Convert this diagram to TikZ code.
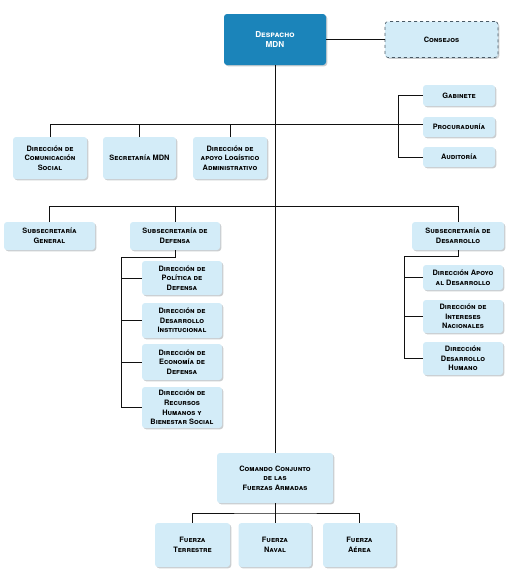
\documentclass[tikz,border=0pt]{standalone}
\usepackage{fontspec}
\setmainfont{TeX Gyre Heros}
\usetikzlibrary{shadows}
\definecolor{head}{HTML}{1B84BA}
\definecolor{unit}{HTML}{D3ECF8}
\definecolor{shade}{HTML}{9EA4A8}
\definecolor{edge}{HTML}{111111}
\definecolor{rim}{HTML}{4A5A66}
\tikzset{
  b/.style={rounded corners=3pt, fill=unit, align=center, inner sep=1pt,
    font=\bfseries\scshape\fontsize{7.4}{9.6}\selectfont,
    drop shadow={shadow xshift=1.3pt, shadow yshift=-1.3pt, fill=shade, opacity=0.55}},
  hd/.style={b, fill=head, text=white, font=\bfseries\scshape\fontsize{8.2}{10.5}\selectfont},
  cs/.style={b, draw=rim, dashed, line width=0.6pt},
  ln/.style={draw=edge, line width=0.8pt},
  sz/.style 2 args={minimum width=#1pt, minimum height=#2pt},
}

\begin{document}
\begin{tikzpicture}[x=1pt, y=-1pt]
  \useasboundingbox (0,0) rectangle (514,573);

  % top
  \node[hd, sz={102}{51}] (desp) at (275,39.5) {Despacho\\MDN};
  \node[cs, sz={113}{36}] (cons) at (441.5,39.5) {Consejos};

  % advisory units
  \node[b, sz={72}{21}] (gab) at (459,95.5) {Gabinete};
  \node[b, sz={72}{20}] (proc) at (459,127) {Procuraduría};
  \node[b, sz={72}{20}] (aud) at (459,157) {Auditoría};

  % first row
  \node[b, sz={74}{42}] (com) at (50,158) {Dirección de\\Comunicación\\Social};
  \node[b, sz={73}{42}] (secr) at (139.5,158) {Secretaría MDN};
  \node[b, sz={74}{42}] (apoyo) at (230,158) {Dirección de\\apoyo Logístico\\Administrativo};

  % subsecretarias
  \node[b, sz={91}{28}] (sgen) at (49.5,236) {Subsecretaría\\General};
  \node[b, sz={90}{28}] (sdef) at (175,236) {Subsecretaría de\\Defensa};
  \node[b, sz={92}{28}] (sdes) at (458,236) {Subsecretaría de\\Desarrollo};

  % defensa
  \node[b, sz={80}{34}] (d1) at (182,278) {Dirección de\\Política de\\Defensa};
  \node[b, sz={80}{35}] (d2) at (182,320.5) {Dirección de\\Desarrollo\\Institucional};
  \node[b, sz={80}{36}] (d3) at (182,362) {Dirección de\\Economía de\\Defensa};
  \node[b, sz={80}{41}] (d4) at (182,407.5) {Dirección de\\Recursos\\Humanos y\\Bienestar Social};

  % desarrollo
  \node[b, sz={80}{25}] (e1) at (463,277.5) {Dirección Apoyo\\al Desarrollo};
  \node[b, sz={80}{33}] (e2) at (463,316.5) {Dirección de\\Intereses\\Nacionales};
  \node[b, sz={80}{33}] (e3) at (463,358.5) {Dirección\\Desarrollo\\Humano};

  % comando
  \node[b, sz={116}{50}] (cmd) at (275,478) {Comando Conjunto\\de las\\Fuerzas Armadas};
  \node[b, sz={75}{44}] (ft) at (192.5,545) {Fuerza\\Terrestre};
  \node[b, sz={73}{44}] (fn) at (275,545) {Fuerza\\Naval};
  \node[b, sz={73}{44}] (fa) at (359.5,545) {Fuerza\\Aérea};

  % junctions
  \coordinate (bus1) at (275,124);
  \coordinate (rs) at (398,124);
  \coordinate (bus2) at (275,206);
  \coordinate (dk) at (121,257);
  \coordinate (ek) at (404,256);
  \coordinate (fk) at (275,513);

  % connectors
  \draw[ln] (desp.south) -- (cmd.north);
  \draw[ln] (desp.east) -- (cons.west);
  \draw[ln] (com.north) |- (rs);
  \foreach \n in {secr,apoyo} \draw[ln] (\n.north) -- (\n.north |- bus1);
  \draw[ln] (gab.west) -| (aud.west -| rs) -- (aud.west);
  \draw[ln] (rs) -- (rs -| proc.west);
  \draw[ln] (sgen.north) |- (sdes.north |- bus2) -- (sdes.north);
  \draw[ln] (sdef.north) -- (sdef.north |- bus2);
  \draw[ln] (sdef.south) |- (dk) |- (d4.west);
  \foreach \n in {d1,d2,d3} \draw[ln] (\n.west) -- (\n.west -| dk);
  \draw[ln] (sdes.south) |- (ek) |- (e3.west);
  \foreach \n in {e1,e2} \draw[ln] (\n.west) -- (\n.west -| ek);
  \draw[ln] (cmd.south) -- (fn.north);
  \draw[ln] (ft.north) |- (fk) -| (fa.north);
\end{tikzpicture}
\end{document}
